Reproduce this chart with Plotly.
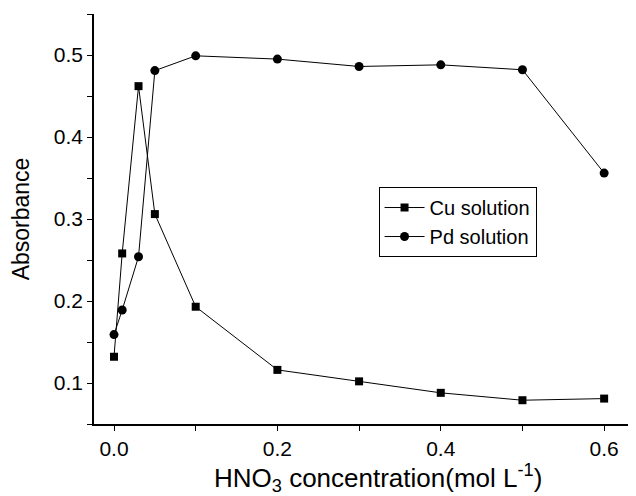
import plotly.graph_objects as go

hno3 = [0.0, 0.01, 0.03, 0.05, 0.1, 0.2, 0.3, 0.4, 0.5, 0.6]
cu_abs = [0.132, 0.258, 0.462, 0.306, 0.193, 0.116, 0.102, 0.088, 0.079, 0.081]
pd_abs = [0.159, 0.189, 0.254, 0.481, 0.499, 0.495, 0.486, 0.488, 0.482, 0.356]

x_ticks = [0.0, 0.2, 0.4, 0.6]
x_minor = [0.1, 0.3, 0.5]
y_ticks = [0.1, 0.2, 0.3, 0.4, 0.5]
y_minor = [0.05, 0.15, 0.25, 0.35, 0.45, 0.55]

font_family = "Liberation Sans, Arial, sans-serif"

fig = go.Figure()
fig.add_trace(go.Scatter(
    x=hno3, y=cu_abs, mode="lines+markers", name="Cu solution",
    line=dict(color="#000000", width=1),
    marker=dict(symbol="square", size=8, color="#000000"),
))
fig.add_trace(go.Scatter(
    x=hno3, y=pd_abs, mode="lines+markers", name="Pd solution",
    line=dict(color="#000000", width=1),
    marker=dict(symbol="circle", size=9, color="#000000"),
))

tick_style = dict(ticks="outside", ticklen=5, tickwidth=1.2, tickcolor="#000000")

# page body has an 8px default margin, so the figure is sized to fit
fig.update_layout(
    width=628, height=488,
    margin=dict(l=86, r=0, t=6, b=72),
    paper_bgcolor="white", plot_bgcolor="white",
    font=dict(family=font_family, color="#000000", size=21),
    showlegend=True,
    legend=dict(
        x=0.525, y=0.578, xanchor="left", yanchor="top",
        bordercolor="#000000", borderwidth=1, bgcolor="white",
        font=dict(size=20), tracegroupgap=0, itemwidth=40,
    ),
    xaxis=dict(
        range=[-0.0245, 0.639], showgrid=False, zeroline=False, automargin=False,
        showline=True, linecolor="#000000", linewidth=1.5,
        tickvals=x_ticks, ticktext=[f"{v:.1f}" for v in x_ticks],
        minor=dict(tickvals=x_minor, **tick_style),
        tickfont=dict(size=21), **tick_style,
    ),
    yaxis=dict(
        range=[0.05, 0.55], showgrid=False, zeroline=False, automargin=False,
        showline=True, linecolor="#000000", linewidth=1.5,
        tickvals=y_ticks, ticktext=[f"{v:.1f}" for v in y_ticks],
        minor=dict(tickvals=y_minor, **tick_style),
        tickfont=dict(size=21), **tick_style,
        title=dict(text="Absorbance", font=dict(size=23), standoff=18),
    ),
    annotations=[dict(
        text="HNO<sub>3</sub> concentration(mol L<sup>-1</sup>)",
        xref="paper", yref="paper", x=(378 - 94) / 542, y=-0.082,
        xanchor="center", yanchor="top", showarrow=False,
        font=dict(size=26),
    )],
)

fig.write_html("out.html")
